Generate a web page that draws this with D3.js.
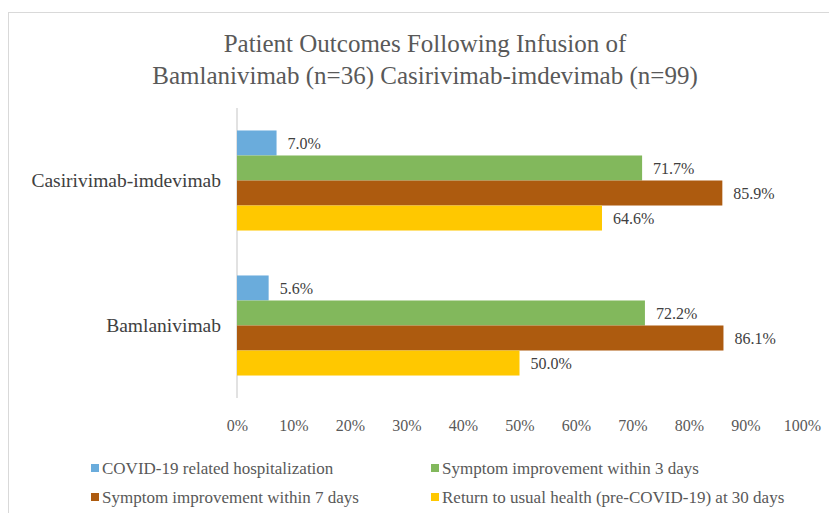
<!DOCTYPE html>
<html>
<head>
<meta charset="utf-8">
<script src="https://cdn.jsdelivr.net/npm/d3@7"></script>
<style>
  body { margin: 0; background: #fff; }
</style>
</head>
<body>
<div id="chart-area"></div>
<script>
// Data
var categories = ['Casirivimab-imdevimab', 'Bamlanivimab'];
var seriesNames = [
    'COVID-19 related hospitalization',
    'Symptom improvement within 3 days',
    'Symptom improvement within 7 days',
    'Return to usual health (pre-COVID-19) at 30 days'
];
var hospitalization = [7.0, 5.6];
var improved3Days = [71.7, 72.2];
var improved7Days = [85.9, 86.1];
var usualHealth30Days = [64.6, 50.0];
var tickValues = [0, 10, 20, 30, 40, 50, 60, 70, 80, 90, 100];
var titleLines = ['Patient Outcomes Following Infusion of', 'Bamlanivimab (n=36) Casirivimab-imdevimab (n=99)'];

var colors = ['#6aacdc', '#82b85c', '#ad5b0f', '#ffc800'];
var seriesValues = [hospitalization, improved3Days, improved7Days, usualHealth30Days];

var FONT = '"Liberation Serif", "Times New Roman", serif';
var W = 829, H = 513;
var margin = {left: 237, right: 27, top: 108, bottom: 115};

var svg = d3.select('#chart-area')
    .append('svg')
        .attr('width', W)
        .attr('height', H);

// chart border
svg.append('rect')
    .attr('x', 8.5)
    .attr('y', 12.5)
    .attr('width', W + 20)
    .attr('height', H + 20)
    .attr('fill', 'none')
    .attr('stroke', '#d9d9d9')
    .attr('stroke-width', 1);

// Title
svg.append('g').selectAll('text')
    .data(titleLines)
    .enter()
    .append('text')
        .attr('x', 425)
        .attr('y', function(d, i){ return 52 + i * 32; })
        .attr('text-anchor', 'middle')
        .style('font-family', FONT)
        .style('font-size', '25px')
        .attr('fill', '#595959')
        .text(function(d){ return d; });

// Scales
var x = d3.scaleLinear()
    .domain([0, 100])
    .range([margin.left, W - margin.right]);

var y = d3.scaleBand()
    .domain(categories)
    .range([margin.top, H - margin.bottom])
    .paddingInner(0.31)
    .paddingOuter(0.155);

var ySeries = d3.scaleBand()
    .domain(d3.range(seriesNames.length))
    .range([0, y.bandwidth()]);

// X Axis (labels only)
var xAxisCall = d3.axisBottom(x)
    .tickValues(tickValues)
    .tickSize(0)
    .tickPadding(22)
    .tickFormat(function(d){ return d + '%'; });
var xAxis = svg.append('g')
    .attr('class', 'x axis')
    .attr('transform', 'translate(0,' + (H - margin.bottom) + ')')
    .call(xAxisCall);
xAxis.select('.domain').remove();
xAxis.selectAll('text')
    .style('font-family', FONT)
    .style('font-size', '16px')
    .attr('fill', '#595959');

// Y Axis line
svg.append('line')
    .attr('x1', x(0))
    .attr('x2', x(0))
    .attr('y1', margin.top)
    .attr('y2', H - margin.bottom)
    .attr('stroke', '#d9d9d9')
    .attr('stroke-width', 1.5);

// Category labels
svg.append('g').selectAll('text')
    .data(categories)
    .enter()
    .append('text')
        .attr('x', x(0) - 16)
        .attr('y', function(d){ return y(d) + y.bandwidth() / 2; })
        .attr('dy', '0.35em')
        .attr('text-anchor', 'end')
        .style('font-family', FONT)
        .style('font-size', '19.5px')
        .attr('fill', '#404040')
        .text(function(d){ return d; });

// Bars
var groups = svg.append('g').selectAll('g')
    .data(categories)
    .enter()
    .append('g')
        .attr('transform', function(d){ return 'translate(0,' + y(d) + ')'; });

groups.each(function(cat, ci){
    var g = d3.select(this);
    var rows = seriesValues.map(function(vals, si){ return {s: si, v: vals[ci]}; });

    g.selectAll('rect')
        .data(rows)
        .enter()
        .append('rect')
            .attr('x', x(0))
            .attr('y', function(d){ return ySeries(d.s); })
            .attr('width', function(d){ return x(d.v) - x(0); })
            .attr('height', ySeries.bandwidth())
            .attr('fill', function(d){ return colors[d.s]; });

    g.selectAll('text')
        .data(rows)
        .enter()
        .append('text')
            .attr('x', function(d){ return x(d.v) + 11; })
            .attr('y', function(d){ return ySeries(d.s) + ySeries.bandwidth() / 2; })
            .attr('dy', '0.35em')
            .style('font-family', FONT)
            .style('font-size', '16px')
            .attr('fill', '#404040')
            .text(function(d){ return d.v.toFixed(1) + '%'; });
});

// Legend
var legendPos = [[91, 468], [431, 468], [91, 497], [431, 497]];
var legend = svg.append('g').selectAll('g')
    .data(seriesNames)
    .enter()
    .append('g')
        .attr('transform', function(d, i){ return 'translate(' + legendPos[i][0] + ',' + legendPos[i][1] + ')'; });

legend.append('rect')
    .attr('x', 0)
    .attr('y', -4)
    .attr('width', 8)
    .attr('height', 8)
    .attr('fill', function(d, i){ return colors[i]; });

legend.append('text')
    .attr('x', 11)
    .attr('y', 0)
    .attr('dy', '0.35em')
    .style('font-family', FONT)
    .style('font-size', '17px')
    .attr('fill', '#595959')
    .text(function(d){ return d; });
</script>
</body>
</html>
